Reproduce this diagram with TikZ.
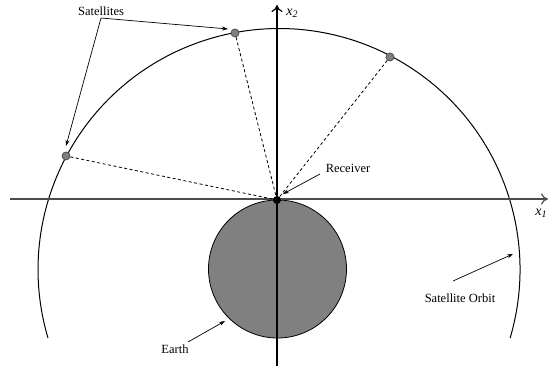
\documentclass[tikz,border=0pt]{standalone}
\usepackage{fontspec}
\setmainfont{Liberation Serif}
\usetikzlibrary{arrows.meta}
\begin{document}
\begin{tikzpicture}[x=1pt,y=-1pt,
  lbl/.style={font=\fontsize{12.5}{14}\selectfont, inner sep=1pt},
  pointer/.style={-{Stealth[length=6pt,width=4pt]}, line width=0.7pt},
  sat/.style={circle, draw=black!70, fill=black!50, line width=0.8pt, minimum size=8pt, inner sep=0pt},
  axis/.style={line width=1.6pt, -{To[length=7pt,width=11pt,line width=1.2pt]}},
  ray/.style={dashed, dash pattern=on 3pt off 2.5pt, line width=0.8pt}]
\useasboundingbox (0,0) rectangle (550,366);
% Earth
\fill[black!50] (277.5,269) circle (69);
\draw[line width=0.8pt] (277.5,269) circle (69);
% orbit
\draw[line width=1pt] (48,338) arc[start angle=163.5, end angle=376.5, radius=241];
% axes
\coordinate (xl) at (10,199);
\coordinate (xr) at (548,199);
\coordinate (yb) at (277,366);
\coordinate (yt) at (277,5);
\draw[axis, draw=black!70] (xl) -- (xr);
\draw[axis] (yb) -- (yt);
% receiver and satellites
\node[circle, fill=black, minimum size=8pt, inner sep=0pt] (rcv) at (277,200) {};
\node[sat] (s1) at (235,33) {};
\node[sat] (s2) at (390,57) {};
\node[sat] (s3) at (66,156) {};
\draw[ray] (s1) -- (rcv.center);
\draw[ray] (s2) -- (rcv.center);
\draw[ray] (s3) -- (rcv.center);
% labels
\node[lbl] (lsat) at (101,11) {Satellites};
\coordinate (lsatp) at (101,18);
\coordinate (s1p) at (228,29);
\coordinate (s3p) at (66,146);
\draw[pointer] (lsatp) -- (s1p);
\draw[pointer] (lsatp) -- (s3p);
\node[lbl] (lrec) at (348,168) {Receiver};
\coordinate (lrecp) at (320,174);
\coordinate (rcvp) at (283,194);
\draw[pointer] (lrecp) -- (rcvp);
\node[lbl] (lorb) at (460,298) {Satellite Orbit};
\coordinate (lorbp) at (453,281);
\coordinate (orbp) at (513,254);
\draw[pointer] (lorbp) -- (orbp);
\node[lbl] (learth) at (175,349) {Earth};
\coordinate (learthp) at (188,342);
\coordinate (earthp) at (225,321);
\draw[pointer] (learthp) -- (earthp);
\node[lbl, font=\fontsize{14}{15}\selectfont\itshape] (lx2) at (292,13) {x\raisebox{-0.35ex}{\fontsize{10}{10}\selectfont 2}};
\node[lbl, font=\fontsize{14}{15}\selectfont\itshape] (lx1) at (541,213) {x\raisebox{-0.35ex}{\fontsize{10}{10}\selectfont 1}};
\end{tikzpicture}
\end{document}
